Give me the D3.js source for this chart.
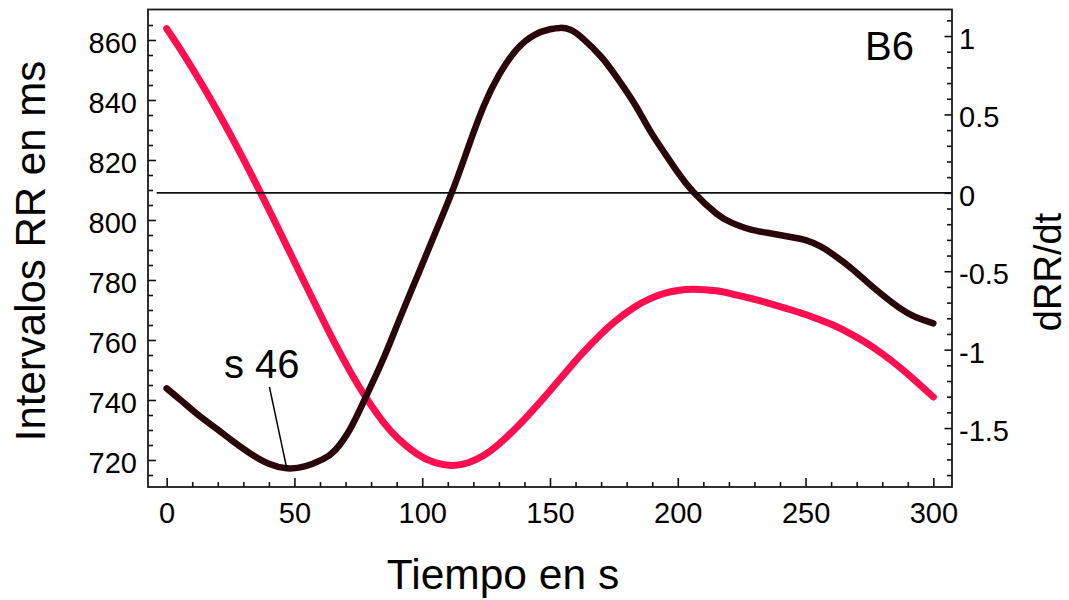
<!DOCTYPE html>
<html>
<head>
<meta charset="utf-8">
<script src="https://cdn.jsdelivr.net/npm/d3@7"></script>
<style>
  html, body { margin: 0; padding: 0; background: #fff; }
  svg { display: block; }
  text { font-family: "Liberation Sans", Arial, Helvetica, sans-serif; fill: #000; }
</style>
</head>
<body>
<svg id="chart" width="1069" height="600"></svg>
<script>
// ---- data ----
const rrTime = [0, 5, 10, 15, 20, 26, 33, 40, 47, 54, 61, 66, 72, 78, 85, 91, 98, 105, 112, 118, 124, 130, 137, 144, 150, 154, 158, 163, 170, 176, 183, 189, 195, 200, 206, 215, 221, 228, 235, 243, 250, 256, 261, 268, 274, 280, 287, 293, 300];
const rrValues = [863.8, 857.4, 850.6, 843.5, 836.1, 826.8, 815.4, 803.5, 791.3, 779.1, 767.0, 758.6, 749.2, 740.8, 732.4, 726.8, 722.0, 719.1, 718.2, 719.1, 721.5, 725.3, 730.9, 737.3, 743.1, 747.1, 751.1, 755.9, 762.0, 766.6, 770.9, 773.7, 775.6, 776.5, 776.9, 776.4, 775.4, 774.0, 772.4, 770.4, 768.5, 766.6, 764.9, 761.9, 758.9, 755.4, 750.8, 746.4, 741.0];

const dTime = [0, 5, 10, 15, 20, 26, 33, 40, 47, 54, 61, 66, 72, 78, 85, 91, 98, 105, 112, 118, 124, 130, 137, 144, 150, 154, 158, 163, 170, 176, 183, 189, 195, 200, 206, 215, 221, 228, 235, 243, 250, 256, 261, 268, 274, 280, 287, 293, 300];
const dValues = [-1.247, -1.315, -1.385, -1.45, -1.51, -1.585, -1.665, -1.728, -1.757, -1.745, -1.70, -1.64, -1.50, -1.30, -1.05, -0.81, -0.535, -0.26, 0.02, 0.29, 0.55, 0.75, 0.915, 1.008, 1.043, 1.052, 1.040, 0.982, 0.868, 0.74, 0.57, 0.40, 0.25, 0.13, 0.007, -0.131, -0.19, -0.232, -0.255, -0.278, -0.302, -0.343, -0.395, -0.482, -0.568, -0.65, -0.737, -0.792, -0.832];

const xTicks = [0, 50, 100, 150, 200, 250, 300];
const xMinor = d3.range(0, 301, 10).filter(v => v % 50 !== 0);
const yLeftTicks = [720, 740, 760, 780, 800, 820, 840, 860];
const yLeftMinor = d3.range(715, 870, 5).filter(v => v % 20 !== 0);
const yRightTicks = [-1.5, -1, -0.5, 0, 0.5, 1];
const yRightMinor = d3.range(-18, 12, 1).map(v => v / 10).filter(v => Math.abs(Math.round(v * 10) % 5) !== 0);

const annotationText = "s 46";
const panelLabel = "B6";

// ---- layout ----
const L = 148, R = 952, T = 9.5, B = 487;
const svg = d3.select("#chart");

const x = d3.scaleLinear().domain([-7.3, 307.3]).range([L, R]);
const yL = d3.scaleLinear().domain([711, 870]).range([B, T + 0.5]);
const yR = d3.scaleLinear().domain([-1.876, 1.166]).range([B, T + 0.5]);

const fmtR = v => (v === 0 ? "0" : (Math.round(v * 10) / 10).toString());

// ---- curves ----
const lineRR = d3.line().x((d, i) => x(rrTime[i])).y(d => yL(d)).curve(d3.curveNatural);
const lineD = d3.line().x((d, i) => x(dTime[i])).y(d => yR(d)).curve(d3.curveNatural);

svg.append("path").attr("d", lineRR(rrValues))
  .attr("fill", "none").attr("stroke", "#ff0f4f").attr("stroke-width", 7)
  .attr("stroke-linecap", "round").attr("stroke-linejoin", "round");

svg.append("path").attr("d", lineD(dValues))
  .attr("fill", "none").attr("stroke", "#2a060a").attr("stroke-width", 6.5)
  .attr("stroke-linecap", "round").attr("stroke-linejoin", "round");

// zero line
svg.append("line")
  .attr("x1", x(-3.9)).attr("x2", R).attr("y1", yR(0)).attr("y2", yR(0))
  .attr("stroke", "#111").attr("stroke-width", 1.6);

// ---- axes ----
function styleAxis(g) {
  g.select(".domain").remove();
  g.selectAll(".tick line").attr("stroke", "#111").attr("stroke-width", 1.6);
  g.selectAll(".tick text").style("font-size", "29px").attr("fill", "#000");
}

const gLeft = svg.append("g").attr("transform", `translate(${L},0)`)
  .call(d3.axisLeft(yL).tickValues(yLeftTicks).tickSize(-8).tickPadding(11).tickFormat(d3.format("d")));
styleAxis(gLeft);
gLeft.selectAll(".tick text").attr("dy", "0.43em");
svg.append("g").attr("transform", `translate(${L},0)`)
  .call(d3.axisLeft(yL).tickValues(yLeftMinor).tickSize(-5).tickFormat(""))
  .call(styleAxis);

const gRight = svg.append("g").attr("transform", `translate(${R},0)`)
  .call(d3.axisRight(yR).tickValues(yRightTicks).tickSize(-7.5).tickPadding(7).tickFormat(fmtR));
styleAxis(gRight);
gRight.selectAll(".tick text").attr("dy", "0.43em");
svg.append("g").attr("transform", `translate(${R},0)`)
  .call(d3.axisRight(yR).tickValues(yRightMinor).tickSize(-5).tickFormat(""))
  .call(styleAxis);

const gBottom = svg.append("g").attr("transform", `translate(0,${B})`)
  .call(d3.axisBottom(x).tickValues(xTicks).tickSize(-9).tickPadding(15).tickFormat(d3.format("d")));
styleAxis(gBottom);
svg.append("g").attr("transform", `translate(0,${B})`)
  .call(d3.axisBottom(x).tickValues(xMinor).tickSize(-5).tickFormat(""))
  .call(styleAxis);

// frame
svg.append("rect").attr("x", L).attr("y", T).attr("width", R - L).attr("height", B - T)
  .attr("fill", "none").attr("stroke", "#1a1a1a").attr("stroke-width", 1.8);

// ---- annotation ----
svg.append("line")
  .attr("x1", x(40.2)).attr("y1", yR(-1.237))
  .attr("x2", x(47)).attr("y2", yR(-1.757))
  .attr("stroke", "#000").attr("stroke-width", 1.5);
svg.append("text").attr("x", 224).attr("y", 378).style("font-size", "40px").text(annotationText);

svg.append("text").attr("x", 865).attr("y", 60).style("font-size", "40px").text(panelLabel);

// ---- axis titles ----
svg.append("text").attr("transform", "translate(45,251) rotate(-90)")
  .attr("text-anchor", "middle").style("font-size", "42px").text("Intervalos RR en ms");
svg.append("text").attr("x", 503).attr("y", 589)
  .attr("text-anchor", "middle").style("font-size", "42.5px").text("Tiempo en s");
svg.append("text").attr("transform", "translate(1061,272) rotate(-90)")
  .attr("text-anchor", "middle").style("font-size", "38px").text("dRR/dt");
</script>
</body>
</html>
